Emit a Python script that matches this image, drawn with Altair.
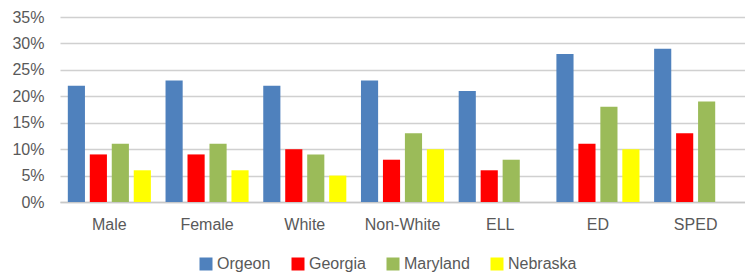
import altair as alt
import pandas as pd

groups = ["Male", "Female", "White", "Non-White", "ELL", "ED", "SPED"]
states = ["Orgeon", "Georgia", "Maryland", "Nebraska"]
colors = ["#4F81BD", "#FF0000", "#9BBB59", "#FFFF00"]

orgeon = [22, 23, 22, 23, 21, 28, 29]
georgia = [9, 9, 10, 8, 6, 11, 13]
maryland = [11, 11, 9, 13, 8, 18, 19]
nebraska = [6, 6, 5, 10, None, 10, None]

rows = []
for s, vals in zip(states, [orgeon, georgia, maryland, nebraska]):
    for g, v in zip(groups, vals):
        if v is not None:
            rows.append({"group": g, "state": s, "value": v / 100})
df = pd.DataFrame(rows)

font = "Liberation Sans"
txt = "#595959"

chart = alt.Chart(df).mark_bar().encode(
    x=alt.X("group:N", sort=groups,
            scale=alt.Scale(paddingInner=0.15, paddingOuter=0.08),
            axis=alt.Axis(title=None, labelAngle=0, ticks=False, domainColor="#c8c8c8",
                          domainWidth=1.5, labelPadding=14, labelFontSize=16,
                          labelColor=txt, labelFont=font)),
    xOffset=alt.XOffset("state:N", sort=states, scale=alt.Scale(domain=states, paddingInner=0.22)),
    y=alt.Y("value:Q", scale=alt.Scale(domain=[0, 0.35]),
            axis=alt.Axis(title=None, format=".0%", values=[0, 0.05, 0.1, 0.15, 0.2, 0.25, 0.3, 0.35],
                          ticks=False, domain=False, gridColor="#d0d0d0", gridWidth=1.5,
                          labelPadding=16, labelFontSize=16, labelColor=txt, labelFont=font)),
    color=alt.Color("state:N", sort=states,
                    scale=alt.Scale(domain=states, range=colors),
                    legend=alt.Legend(title=None, orient="none", direction="horizontal",
                                      legendX=138, legendY=239, symbolType="square",
                                      symbolSize=169, symbolStrokeWidth=0, labelFontSize=16,
                                      labelColor=txt, labelFont=font, columnPadding=19,
                                      labelOffset=3)),
).properties(
    width=685, height=185,
    autosize=alt.AutoSizeParams(type="none"),
    padding={"left": 52, "top": 9, "right": 0, "bottom": 74},
).configure_view(stroke=None)

chart.save("out.html", embed_options={"renderer": "svg", "actions": False})
